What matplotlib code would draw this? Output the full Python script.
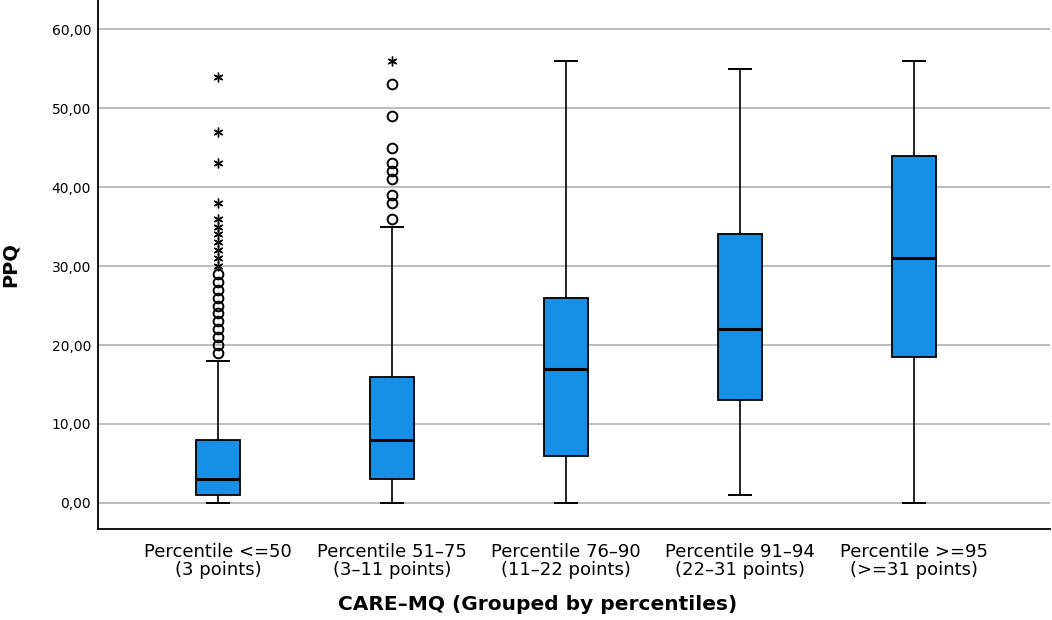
import matplotlib.pyplot as plt
import numpy as np

groups = ['Percentile <=50\n(3 points)', 'Percentile 51\u201375\n(3\u201311 points)',
          'Percentile 76\u201390\n(11\u201322 points)', 'Percentile 91\u201394\n(22\u201331 points)',
          'Percentile >=95\n(>=31 points)']
whis_low = [0, 0, 0, 1, 0]
q1 = [1, 3, 6, 13, 18.5]
median = [3, 8, 17, 22, 31]
q3 = [8, 16, 26, 34, 44]
whis_high = [18, 35, 56, 55, 56]

# outliers (circles) and extremes (stars) per group
outliers = [
    [19, 20, 21, 22, 23, 24, 25, 26, 27, 28, 29],
    [36, 38, 39, 41, 42, 43, 45, 49, 53],
    [], [], [],
]
extremes = [
    [30, 31, 32, 33, 34, 35, 36, 38, 43, 47, 54],
    [56],
    [], [], [],
]

fig = plt.figure(figsize=(10.52, 6.2), dpi=100)
ax = fig.add_axes([98 / 1052, (620 - 529) / 620, (1050 - 98) / 1052, 529 / 620])

pos = np.arange(1, len(groups) + 1)
stats = []
for i in range(len(groups)):
    stats.append({'whislo': whis_low[i], 'q1': q1[i], 'med': median[i], 'q3': q3[i],
                  'whishi': whis_high[i], 'fliers': outliers[i]})

ax.bxp(stats, positions=pos, widths=0.25, patch_artist=True, showfliers=True,
       boxprops=dict(facecolor='#1590e6', edgecolor='black', linewidth=1.3),
       medianprops=dict(color='black', linewidth=2.2),
       whiskerprops=dict(color='black', linewidth=1.2),
       capprops=dict(color='black', linewidth=1.4),
       capwidths=0.125,
       flierprops=dict(marker='o', markerfacecolor='none', markeredgecolor='black',
                       markersize=7, markeredgewidth=1.4, linestyle='none'),
       zorder=3)

for i, ext in enumerate(extremes):
    if ext:
        ax.plot([pos[i]] * len(ext), ext, linestyle='none', marker=(6, 2, 0),
                markersize=7, markeredgewidth=1.0, color='black', zorder=4)

ax.set_xlim(0.31, 5.78)
ax.set_ylim(-3.3, 63.7)
ax.set_yticks([0, 10, 20, 30, 40, 50, 60])
ax.set_yticklabels(['0,00', '10,00', '20,00', '30,00', '40,00', '50,00', '60,00'], fontsize=10)
ax.set_xticks(pos)
ax.set_xticklabels(groups, fontsize=13, linespacing=1.0)
ax.tick_params(axis='both', length=0)
ax.tick_params(axis='y', pad=5)
ax.tick_params(axis='x', pad=10)
ax.yaxis.grid(True, color='#aaaaaa', linewidth=1.1, zorder=0)
ax.set_axisbelow(True)
for s in ['top', 'right']:
    ax.spines[s].set_visible(False)
ax.spines['left'].set_linewidth(1.3)
ax.spines['bottom'].set_linewidth(1.3)

ax.set_ylabel('PPQ', fontsize=14, fontweight='bold', labelpad=0)
ax.yaxis.set_label_coords(-78 / 952, 0.5)
fig.text(538 / 1052, (620 - 604) / 620, 'CARE\u2013MQ (Grouped by percentiles)',
         fontsize=14.5, fontweight='bold', ha='center', va='center')

fig.savefig('out.png', dpi=100)
